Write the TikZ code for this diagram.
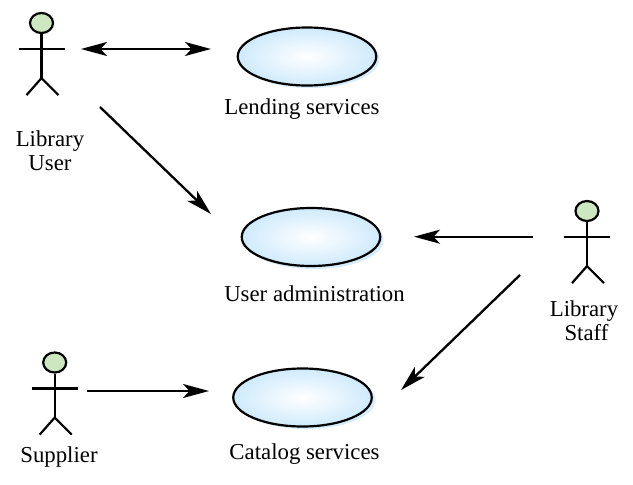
\documentclass[tikz,border=0pt]{standalone}
\usepackage{fontspec}
\setmainfont{Liberation Serif}
\usetikzlibrary{arrows.meta,shapes.geometric,calc}
\definecolor{headfill}{HTML}{CDE8C0}
\definecolor{caseedge}{HTML}{CFEAFC}
\definecolor{caseshadow}{HTML}{D6ECFB}
\tikzset{
  x=1pt,y=-1pt,
  actorhead/.style={ellipse,draw=black,line width=2.2pt,fill=headfill,minimum width=23pt,minimum height=20pt,inner sep=0pt},
  limb/.style={line width=2.2pt,black},
  usecase/.style={ellipse,draw=black,line width=2.2pt,minimum width=138.5pt,minimum height=58pt,inner sep=0pt,
    inner color=white,outer color=caseedge},
  caseback/.style={ellipse,fill=caseshadow,minimum width=139pt,minimum height=58pt,inner sep=0pt},
  flow/.style={line width=2.3pt,black,-{Stealth[length=26pt,width=14pt,inset=6.5pt]}},
  flowboth/.style={line width=2.3pt,black,{Stealth[length=26pt,width=14pt,inset=6.5pt]}-{Stealth[length=26pt,width=14pt,inset=6.5pt]}},
  lbl/.style={font=\fontsize{22.8pt}{24pt}\selectfont,align=center,inner sep=0pt,text=black}
}
\newcommand{\actorfig}[2]{%
  \node[actorhead] (#2) at (#1) {};
  \draw[limb] (#2.south) -- ++(0,44) coordinate (#2hip);
  \draw[limb] ($(#2)+(-23,26)$) -- ++(46,0);
  \draw[limb] ($(#2hip)+(-15,17)$) -- (#2hip) -- ($(#2hip)+(17,17)$);
}
\begin{document}
\begin{tikzpicture}
\useasboundingbox (0,0) rectangle (633,485);
\node[caseback] at (310,59) {};
\node[caseback] at (314,240) {};
\node[caseback] at (306,400) {};
\node[usecase] (lending) at (307,56.5) {};
\node[usecase] (admin) at (311,237) {};
\node[usecase] (catalog) at (302.5,397.5) {};
\actorfig{41.5,23}{user}
\actorfig{587,211}{staff}
\actorfig{54.7,362.5}{supplier}
\node[lbl] (tlend) at (302,109.5) {Lending services};
\node[lbl] (tadmin) at (314.5,293.5) {User administration};
\node[lbl] (tcat) at (304.5,454) {Catalog services};
\node[lbl] (tuser) at (50,151) {Library\\User};
\node[lbl] (tstaff) at (584,321) {Library\\\hspace*{5pt}Staff};
\node[lbl] (tsup) at (59,457) {Supplier};
\draw[flowboth] ($(user)+(39.5,26)$) -- ($(lending)+(-96,-7.5)$);
\draw[flow] ($(user)+(58.5,84)$) -- ($(admin)+(-100,-23)$);
\draw[flow] ($(staff)+(-54,25.7)$) -- ($(admin)+(103,-0.3)$);
\draw[flow] ($(staff)+(-67,64)$) -- ($(catalog)+(98.5,-7.5)$);
\draw[flow] ($(supplier)+(32.3,28.5)$) -- ($(catalog)+(-93.5,-6.5)$);
\end{tikzpicture}
\end{document}
